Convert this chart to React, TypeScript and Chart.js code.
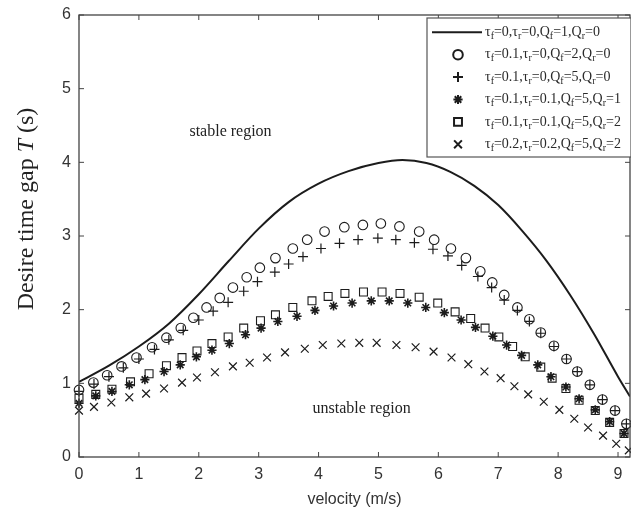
import React, { useEffect, useRef } from 'react';
import { Chart, registerables } from 'chart.js';

Chart.register(...registerables);

// ---------- data (velocity in m/s, desire time gap T in s) ----------
const curveV = [0, 0.5, 1, 1.5, 2, 2.5, 3, 3.5, 4, 4.5, 5, 5.4, 5.8, 6.2, 6.6, 7, 7.4, 7.8, 8.2, 8.6, 9, 9.2];
const curveT = [1.02, 1.24, 1.5, 1.81, 2.21, 2.66, 3.1, 3.46, 3.71, 3.88, 3.99, 4.03, 3.99, 3.87, 3.68, 3.42, 3.07, 2.67, 2.2, 1.67, 1.09, 0.82];

const circleV = [0, 0.24, 0.47, 0.71, 0.96, 1.22, 1.46, 1.7, 1.91, 2.13, 2.35, 2.57, 2.8, 3.02, 3.28, 3.57, 3.81, 4.1, 4.43, 4.74, 5.04, 5.35, 5.68, 5.93, 6.21, 6.46, 6.7, 6.9, 7.1, 7.32, 7.52, 7.71, 7.93, 8.14, 8.32, 8.53, 8.74, 8.95, 9.14];
const circleT = [0.91, 1.01, 1.11, 1.23, 1.35, 1.49, 1.62, 1.75, 1.89, 2.03, 2.16, 2.3, 2.44, 2.57, 2.7, 2.83, 2.95, 3.06, 3.12, 3.15, 3.17, 3.13, 3.06, 2.95, 2.83, 2.7, 2.52, 2.37, 2.2, 2.03, 1.87, 1.69, 1.51, 1.33, 1.16, 0.98, 0.78, 0.63, 0.45];

const plusV = [0, 0.25, 0.5, 0.74, 1.0, 1.26, 1.5, 1.74, 2.0, 2.24, 2.49, 2.75, 2.98, 3.27, 3.5, 3.74, 4.04, 4.35, 4.66, 4.99, 5.29, 5.6, 5.91, 6.16, 6.39, 6.66, 6.89, 7.1, 7.32, 7.52, 7.71, 7.93, 8.14, 8.32, 8.53, 8.74, 8.95, 9.14];
const plusT = [0.89, 0.99, 1.09, 1.21, 1.33, 1.46, 1.59, 1.72, 1.86, 1.98, 2.1, 2.25, 2.38, 2.51, 2.62, 2.72, 2.83, 2.9, 2.95, 2.97, 2.95, 2.91, 2.82, 2.73, 2.6, 2.45, 2.3, 2.13, 1.99, 1.84, 1.68, 1.5, 1.33, 1.16, 0.98, 0.78, 0.63, 0.45];

const starV = [0, 0.28, 0.55, 0.84, 1.1, 1.42, 1.69, 1.96, 2.22, 2.51, 2.78, 3.04, 3.32, 3.64, 3.94, 4.25, 4.56, 4.88, 5.18, 5.49, 5.79, 6.1, 6.38, 6.62, 6.91, 7.14, 7.39, 7.66, 7.88, 8.13, 8.35, 8.62, 8.86, 9.1];
const starT = [0.73, 0.83, 0.89, 0.98, 1.05, 1.16, 1.25, 1.36, 1.45, 1.54, 1.66, 1.75, 1.84, 1.91, 1.99, 2.05, 2.09, 2.12, 2.12, 2.09, 2.03, 1.96, 1.86, 1.76, 1.64, 1.52, 1.38, 1.25, 1.09, 0.95, 0.79, 0.64, 0.48, 0.32];

const squareV = [0, 0.28, 0.55, 0.86, 1.17, 1.46, 1.72, 1.97, 2.22, 2.49, 2.75, 3.03, 3.28, 3.57, 3.89, 4.16, 4.44, 4.75, 5.06, 5.36, 5.68, 5.99, 6.28, 6.54, 6.78, 7.01, 7.24, 7.45, 7.71, 7.9, 8.13, 8.35, 8.62, 8.86, 9.1];
const squareT = [0.8, 0.85, 0.92, 1.02, 1.13, 1.24, 1.35, 1.44, 1.54, 1.63, 1.75, 1.85, 1.93, 2.03, 2.12, 2.18, 2.22, 2.24, 2.24, 2.22, 2.17, 2.09, 1.97, 1.88, 1.75, 1.63, 1.5, 1.36, 1.22, 1.07, 0.93, 0.77, 0.63, 0.47, 0.32];

const crossV = [0, 0.25, 0.54, 0.84, 1.12, 1.42, 1.72, 1.97, 2.27, 2.57, 2.85, 3.14, 3.44, 3.77, 4.07, 4.38, 4.68, 4.97, 5.3, 5.62, 5.92, 6.22, 6.5, 6.77, 7.04, 7.27, 7.5, 7.76, 8.02, 8.27, 8.5, 8.75, 8.97, 9.18];
const crossT = [0.63, 0.68, 0.74, 0.81, 0.86, 0.93, 1.01, 1.08, 1.15, 1.23, 1.28, 1.35, 1.42, 1.47, 1.52, 1.54, 1.55, 1.55, 1.52, 1.49, 1.43, 1.35, 1.26, 1.16, 1.07, 0.96, 0.85, 0.75, 0.64, 0.52, 0.4, 0.29, 0.18, 0.09];

const legendLabels = [
  'τ_f=0,τ_r=0,Q_f=1,Q_r=0',
  'τ_f=0.1,τ_r=0,Q_f=2,Q_r=0',
  'τ_f=0.1,τ_r=0,Q_f=5,Q_r=0',
  'τ_f=0.1,τ_r=0.1,Q_f=5,Q_r=1',
  'τ_f=0.1,τ_r=0.1,Q_f=5,Q_r=2',
  'τ_f=0.2,τ_r=0.2,Q_f=5,Q_r=2',
];

const regionLabels = [
  { text: 'stable region', v: 2.53, t: 4.41 },
  { text: 'unstable region', v: 4.72, t: 0.65 },
];

const xTitle = 'velocity (m/s)';
const yTitleParts = [
  { text: 'Desire time gap ', italic: false },
  { text: 'T', italic: true },
  { text: ' (s)', italic: false },
];

const X_MIN = 0;
const X_MAX = 9.2;
const Y_MIN = 0;
const Y_MAX = 6;

// ---------- helpers ----------
const pts = (xs: number[], ys: number[]) => xs.map((x, i) => ({ x, y: ys[i] }));

const INK = '#1c1c1c';
const AXIS = '#444';
const SERIF = '"Liberation Serif", "DejaVu Serif", serif';
const SANS = '"Liberation Sans", Arial, sans-serif';

function drawMarker(ctx: CanvasRenderingContext2D, style: string, x: number, y: number, r: number) {
  ctx.beginPath();
  const d = r * Math.SQRT1_2;
  if (style === 'circle') {
    ctx.arc(x, y, r, 0, Math.PI * 2);
  } else if (style === 'cross') {
    ctx.moveTo(x - r, y); ctx.lineTo(x + r, y);
    ctx.moveTo(x, y - r); ctx.lineTo(x, y + r);
  } else if (style === 'crossRot') {
    ctx.moveTo(x - d, y - d); ctx.lineTo(x + d, y + d);
    ctx.moveTo(x - d, y + d); ctx.lineTo(x + d, y - d);
  } else if (style === 'star') {
    ctx.moveTo(x - r, y); ctx.lineTo(x + r, y);
    ctx.moveTo(x, y - r); ctx.lineTo(x, y + r);
    ctx.moveTo(x - d, y - d); ctx.lineTo(x + d, y + d);
    ctx.moveTo(x - d, y + d); ctx.lineTo(x + d, y - d);
  } else if (style === 'rect') {
    ctx.rect(x - d, y - d, 2 * d, 2 * d);
  }
  ctx.stroke();
}

function parseSub(label: string) {
  const parts: { text: string; sub: boolean }[] = [];
  let buf = '';
  for (let i = 0; i < label.length; i++) {
    if (label[i] === '_' && i + 1 < label.length) {
      if (buf) parts.push({ text: buf, sub: false });
      buf = '';
      parts.push({ text: label[i + 1], sub: true });
      i++;
    } else buf += label[i];
  }
  if (buf) parts.push({ text: buf, sub: false });
  return parts;
}

const decorPlugin = {
  id: 'decor',
  afterDatasetsDraw(chart: any) {
    const { ctx, chartArea: a, scales } = chart;
    const xs = scales.x;
    const ys = scales.y;
    ctx.save();

    // frame
    ctx.strokeStyle = AXIS;
    ctx.lineWidth = 1.3;
    ctx.strokeRect(a.left, a.top, a.right - a.left, a.bottom - a.top);

    // inward ticks
    ctx.lineWidth = 1;
    ctx.beginPath();
    for (let v = 0; v <= 9; v++) {
      const px = xs.getPixelForValue(v);
      ctx.moveTo(px, a.bottom); ctx.lineTo(px, a.bottom - 5);
      ctx.moveTo(px, a.top); ctx.lineTo(px, a.top + 5);
    }
    for (let t = 0; t <= 6; t++) {
      const py = ys.getPixelForValue(t);
      ctx.moveTo(a.left, py); ctx.lineTo(a.left + 5, py);
      ctx.moveTo(a.right, py); ctx.lineTo(a.right - 5, py);
    }
    ctx.stroke();

    // region labels
    ctx.fillStyle = '#222';
    ctx.font = `16px ${SERIF}`;
    ctx.textAlign = 'center';
    ctx.textBaseline = 'middle';
    regionLabels.forEach((l) => {
      ctx.fillText(l.text, xs.getPixelForValue(l.v), ys.getPixelForValue(l.t));
    });

    // y-axis title (rotated, italic T)
    ctx.save();
    ctx.translate(27, (a.top + a.bottom) / 2 - 27);
    ctx.rotate(-Math.PI / 2);
    ctx.textAlign = 'left';
    ctx.textBaseline = 'middle';
    const fontFor = (it: boolean) => `${it ? 'italic ' : ''}24px ${SERIF}`;
    let total = 0;
    yTitleParts.forEach((p) => { ctx.font = fontFor(p.italic); total += ctx.measureText(p.text).width; });
    let cx = -total / 2;
    yTitleParts.forEach((p) => {
      ctx.font = fontFor(p.italic);
      ctx.fillText(p.text, cx, 0);
      cx += ctx.measureText(p.text).width;
    });
    ctx.restore();

    // legend
    const lw = 204;
    const lx = a.right - lw + 1;
    const ly = a.top + 3;
    const lh = 139;
    ctx.fillStyle = '#fff';
    ctx.fillRect(lx, ly, lw, lh);
    ctx.strokeStyle = '#555';
    ctx.lineWidth = 1.2;
    ctx.strokeRect(lx, ly, lw, lh);
    const rowH = 22.4;
    const ds = chart.data.datasets;
    legendLabels.forEach((label, i) => {
      const ry = ly + 14.3 + i * rowH;
      ctx.strokeStyle = INK;
      if (i === 0) {
        ctx.lineWidth = 2;
        ctx.beginPath();
        ctx.moveTo(lx + 5, ry);
        ctx.lineTo(lx + 55, ry);
        ctx.stroke();
      } else {
        ctx.lineWidth = 2;
        const d = ds[i];
        drawMarker(ctx, d.pointStyle, lx + 31, ry, d.pointRadius);
      }
      let tx = lx + 58;
      ctx.fillStyle = '#2a2a2a';
      ctx.textAlign = 'left';
      ctx.textBaseline = 'middle';
      parseSub(label).forEach((p) => {
        ctx.font = p.sub ? `10px ${SERIF}` : `14px ${SERIF}`;
        ctx.fillText(p.text, tx, p.sub ? ry + 4 : ry);
        tx += ctx.measureText(p.text).width;
      });
    });

    ctx.restore();
  },
};

export default function App() {
  const canvasRef = useRef<HTMLCanvasElement | null>(null);

  useEffect(() => {
    document.body.style.margin = '0';
    const canvas = canvasRef.current;
    if (!canvas) return;

    const markerBase = {
      type: 'scatter' as const,
      showLine: false,
      borderColor: INK,
      backgroundColor: 'transparent',
      clip: false as any,
    };

    const chart = new Chart(canvas, {
      type: 'scatter',
      data: {
        datasets: [
          {
            type: 'line',
            label: legendLabels[0],
            data: pts(curveV, curveT),
            borderColor: INK,
            borderWidth: 2,
            pointRadius: 0,
            fill: false,
            cubicInterpolationMode: 'monotone',
          } as any,
          { ...markerBase, label: legendLabels[1], data: pts(circleV, circleT), pointStyle: 'circle', pointRadius: 4.8, borderWidth: 1.1 },
          { ...markerBase, label: legendLabels[2], data: pts(plusV, plusT), pointStyle: 'cross', pointRadius: 5, borderWidth: 1.2 },
          { ...markerBase, label: legendLabels[3], data: pts(starV, starT), pointStyle: 'star', pointRadius: 4.6, borderWidth: 1.6 },
          { ...markerBase, label: legendLabels[4], data: pts(squareV, squareT), pointStyle: 'rect', pointRadius: 5.6, borderWidth: 1.1 },
          { ...markerBase, label: legendLabels[5], data: pts(crossV, crossT), pointStyle: 'crossRot', pointRadius: 5.5, borderWidth: 1.2 },
        ],
      },
      options: {
        animation: false,
        responsive: true,
        maintainAspectRatio: false,
        layout: { autoPadding: false, padding: { top: 15, right: 1, left: 0, bottom: 0 } },
        plugins: {
          legend: { display: false },
          tooltip: { enabled: false },
        },
        scales: {
          x: {
            type: 'linear',
            min: X_MIN,
            max: X_MAX,
            grid: { display: false, drawTicks: false },
            border: { display: false },
            ticks: {
              stepSize: 1,
              includeBounds: false,
              padding: 8,
              color: '#333',
              font: { family: SANS, size: 16 },
            },
            title: {
              display: true,
              text: xTitle,
              color: '#333',
              font: { family: SANS, size: 16 },
              padding: { top: 0, bottom: 1 },
            },
            afterFit: (s: any) => {
              s.height = 53;
              s.paddingLeft = 0;
              s.paddingRight = 0;
            },
          },
          y: {
            type: 'linear',
            min: Y_MIN,
            max: Y_MAX,
            grid: { display: false, drawTicks: false },
            border: { display: false },
            ticks: {
              stepSize: 1,
              padding: 8,
              color: '#333',
              font: { family: SANS, size: 16 },
            },
            afterFit: (s: any) => {
              s.width = 79;
              s.paddingTop = 0;
              s.paddingBottom = 0;
            },
          },
        },
      } as any,
      plugins: [decorPlugin],
    });

    return () => chart.destroy();
  }, []);

  return (
    <div style={{ width: 631, height: 510, position: 'relative' }}>
      <canvas ref={canvasRef} style={{ display: 'block' }} />
    </div>
  );
}
